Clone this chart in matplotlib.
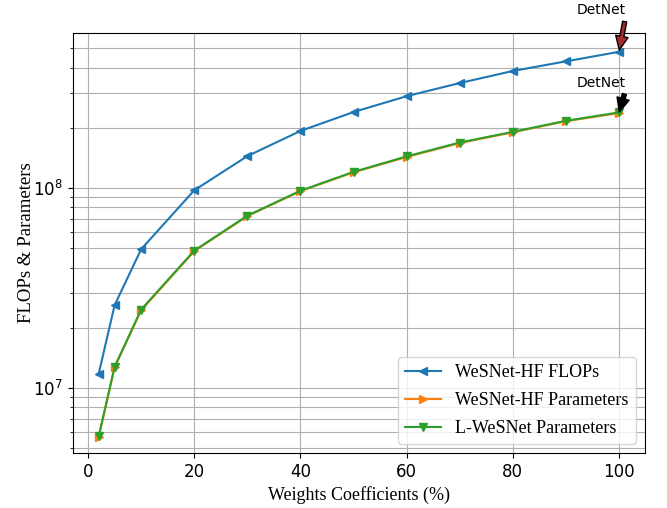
import matplotlib
matplotlib.use("Agg")
import matplotlib.pyplot as plt

x = [2, 5, 10, 20, 30, 40, 50, 60, 70, 80, 90, 100]
flops = [1.18e7, 2.6e7, 4.95e7, 9.75e7, 1.445e8, 1.93e8, 2.4e8, 2.88e8, 3.35e8, 3.85e8, 4.3e8, 4.8e8]
params_hf = [5.7e6, 1.27e7, 2.45e7, 4.84e7, 7.24e7, 9.66e7, 1.2e8, 1.43e8, 1.68e8, 1.9e8, 2.16e8, 2.37e8]
params_l = [5.75e6, 1.28e7, 2.47e7, 4.87e7, 7.28e7, 9.7e7, 1.205e8, 1.44e8, 1.69e8, 1.91e8, 2.17e8, 2.39e8]
labels = ["WeSNet-HF FLOPs", "WeSNet-HF Parameters", "L-WeSNet Parameters"]

serif = ["Liberation Serif", "DejaVu Serif"]

fig = plt.figure(figsize=(6.67, 5.08), dpi=100)
ax = fig.add_axes([0.109, 0.108, 0.858, 0.827])

ax.plot(x, flops, marker="<", color="#1f77b4", label=labels[0])
ax.plot(x, params_hf, marker=">", color="#ff7f0e", label=labels[1])
ax.plot(x, params_l, marker="v", color="#2ca02c", label=labels[2])

ax.set_yscale("log")
ax.set_ylim(4.73e6, 5.96e8)
ax.grid(True, which="major", color="#b0b0b0", linewidth=0.8)
ax.grid(True, which="minor", color="#b0b0b0", linewidth=0.8)
ax.tick_params(labelsize=12)

ax.set_xlabel("Weights Coefficients (%)", fontsize=13, family=serif)
ax.set_ylabel("FLOPs & Parameters", fontsize=13.5, family=serif, labelpad=-1)

ax.annotate("DetNet", xy=(x[-1], flops[-1]), xytext=(96.6, 7.76e8),
            ha="center", va="center", fontsize=10, annotation_clip=False,
            arrowprops=dict(facecolor="#a52a2a", edgecolor="black", width=3, headwidth=9, headlength=10, shrink=0.05))
ax.annotate("DetNet", xy=(x[-1], params_hf[-1]), xytext=(96.6, 3.35e8),
            ha="center", va="center", fontsize=10,
            arrowprops=dict(facecolor="black", edgecolor="black", width=3, headwidth=9, headlength=10, shrink=0.05))

ax.legend(loc="lower right", prop={"family": serif, "size": 13}, labelspacing=0.6)

fig.savefig("out.png", dpi=100)
